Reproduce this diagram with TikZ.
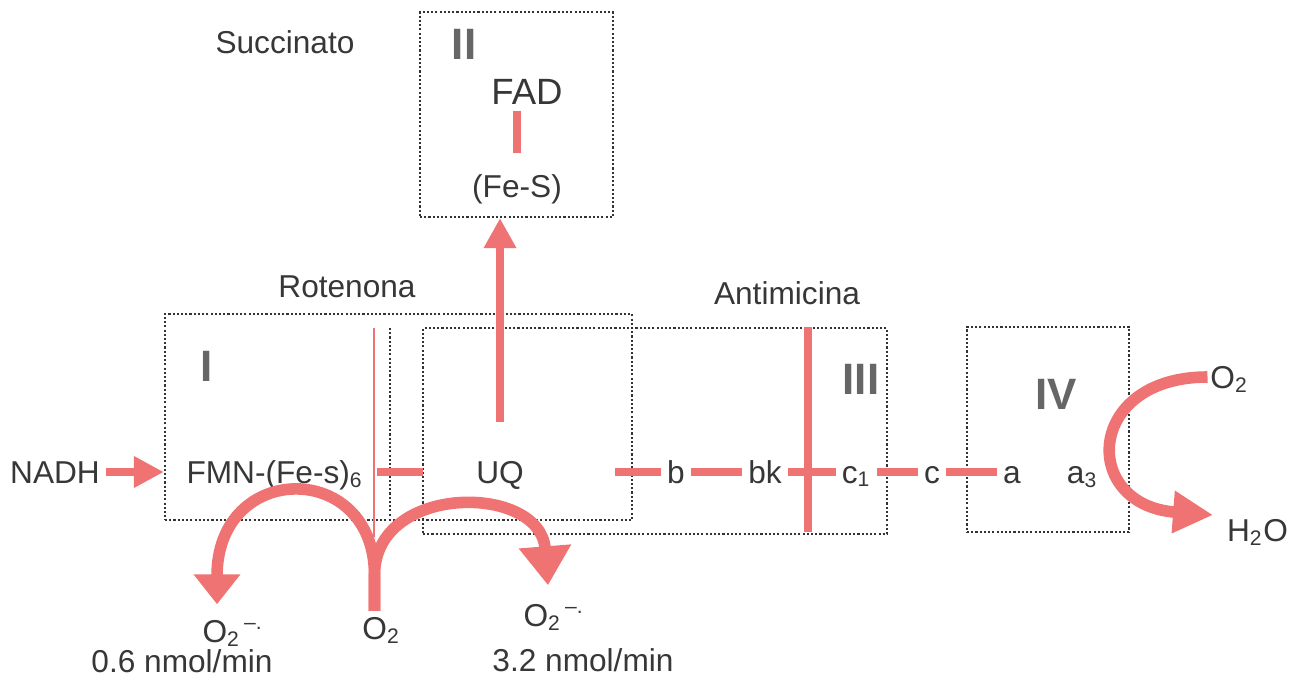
\documentclass[tikz,border=0pt]{standalone}
\usepackage{fontspec}
\setmainfont{Liberation Sans}
\usetikzlibrary{arrows.meta}
\definecolor{rd}{RGB}{240,115,115}
\definecolor{ink}{RGB}{55,55,55}

\begin{document}
\begin{tikzpicture}[x=1cm, y=-1cm,
  every node/.style={font=\fontsize{9}{10}\selectfont, text=ink, inner sep=1.5pt, text height=6.4pt, text depth=0pt},
  cplx/.style={draw=black!80, dash pattern=on 0.6pt off 0.6pt, line width=0.7pt, minimum height=2.06cm, inner sep=0pt},
  roman/.style={font=\bfseries\fontsize{12.5}{14}\selectfont, text=black!60, text height=9pt},
  link/.style={draw=rd, line width=2pt},
  bigarr/.style={draw=rd, line width=3.3pt}]
\useasboundingbox (0,0) rectangle (13.03,6.79);
% complexes
\node[cplx, minimum width=4.67cm] (cI) at (3.985,4.17) {};
\node[cplx, minimum width=4.64cm] (cIII) at (6.55,4.31) {};
\node[cplx, minimum width=1.93cm, minimum height=2.05cm] (cII) at (5.165,1.145) {};
\node[cplx, minimum width=1.62cm, minimum height=2.05cm] (cIV) at (10.48,4.295) {};
\draw[black!80, dash pattern=on 0.6pt off 0.6pt, line width=0.7pt] (3.90,3.28) -- (3.90,5.17);
\node[roman] (nI) at (2.065,3.66) {I};
\node[roman] (nII) at (4.64,0.44) {II};
\node[roman] (nIII) at (8.61,3.79) {III};
\node[roman] (nIV) at (10.56,3.935) {IV};
% inhibitors
\node (succ) at (2.85,0.425) {Succinato};
\node (roten) at (3.47,2.865) {Rotenona};
\node (antim) at (7.87,2.935) {Antimicina};
\draw[rd, line width=0.6pt] (3.74,3.28) -- (3.74,5.37);
\draw[rd, line width=2.3pt] (8.08,3.27) -- (8.08,5.32);
% complex II
\node[font=\fontsize{10.4}{12}\selectfont, text height=7.4pt] (FAD) at (5.27,0.92) {FAD};
\node (FeS) at (5.17,1.865) {(Fe-S)};
\draw[link] (FeS.north |- FAD.south) -- ([yshift=1.6mm]FeS.north);
% chain
\node (nadh) at (0.55,4.72) {NADH};
\node (fmn) at (2.75,4.72) {FMN-(Fe-s)\textsubscript{6}};
\node (UQ) at (5.00,4.72) {UQ};
\node (b) at (6.76,4.72) {b};
\node (bk) at (7.65,4.72) {bk};
\node (c1) at (8.565,4.72) {c\textsubscript{1}};
\node (c) at (9.32,4.72) {c};
\node (a) at (10.12,4.72) {a};
\node (a3) at (10.825,4.72) {a\textsubscript{3}};
\coordinate (rotR) at (3.77,4.72);
\coordinate (uqL) at (4.23,4.72);
\coordinate (uqR) at (6.15,4.72);
\draw[link, -{Triangle[width=3mm, length=3mm]}] (nadh) -- (nadh -| cI.west);
\draw[link] (rotR) -- (uqL);
\draw[link] (uqR) -- (b);
\draw[link] (b) -- (bk);
\draw[link] (bk) -- (c1);
\draw[link] (c1) -- (c);
\draw[link] (c) -- (a);
\draw[link, -{Triangle[width=3.1mm, length=3mm]}] ([yshift=3.3mm]UQ.north) -- (UQ |- cII.south);
% oxygen
\node (O2r) at (12.295,3.77) {O\textsubscript{2}};
\node (H2O) at (12.575,5.30) {H\textsubscript{2}O};
\draw[bigarr, -{Triangle[width=4mm, length=4mm]}] ([xshift=0.3mm]O2r.west) .. controls (10.85,3.77) and (10.8,5.05) .. ([shift={(-0.8mm,1.5mm)}]H2O.west);
\node (O2b) at (3.815,6.28) {O\textsubscript{2}};
\node (supL) at (2.33,6.315) {O\textsubscript{2}\textsuperscript{\,–.}};
\node (rateL) at (1.82,6.61) {0.6 nmol/min};
\node (supR) at (5.54,6.155) {O\textsubscript{2}\textsuperscript{\,–.}};
\node (rateR) at (5.83,6.60) {3.2 nmol/min};
\coordinate (jn) at (3.745,5.75);
\draw[bigarr, -{Triangle[width=4.5mm, length=3mm]}] ([xshift=-0.7mm]O2b.north) -- (jn) .. controls (3.745,4.6) and (2.17,4.6) .. ([yshift=1mm]supL.north -| 2.17,0);
\draw[bigarr, -{Triangle[width=5mm, length=3.9mm]}] ([xshift=-0.7mm]O2b.north) -- (jn) .. controls (3.745,4.83) and (5.40,4.83) .. ([yshift=1.3mm]supR.north -| 5.48,0);
\end{tikzpicture}
\end{document}
